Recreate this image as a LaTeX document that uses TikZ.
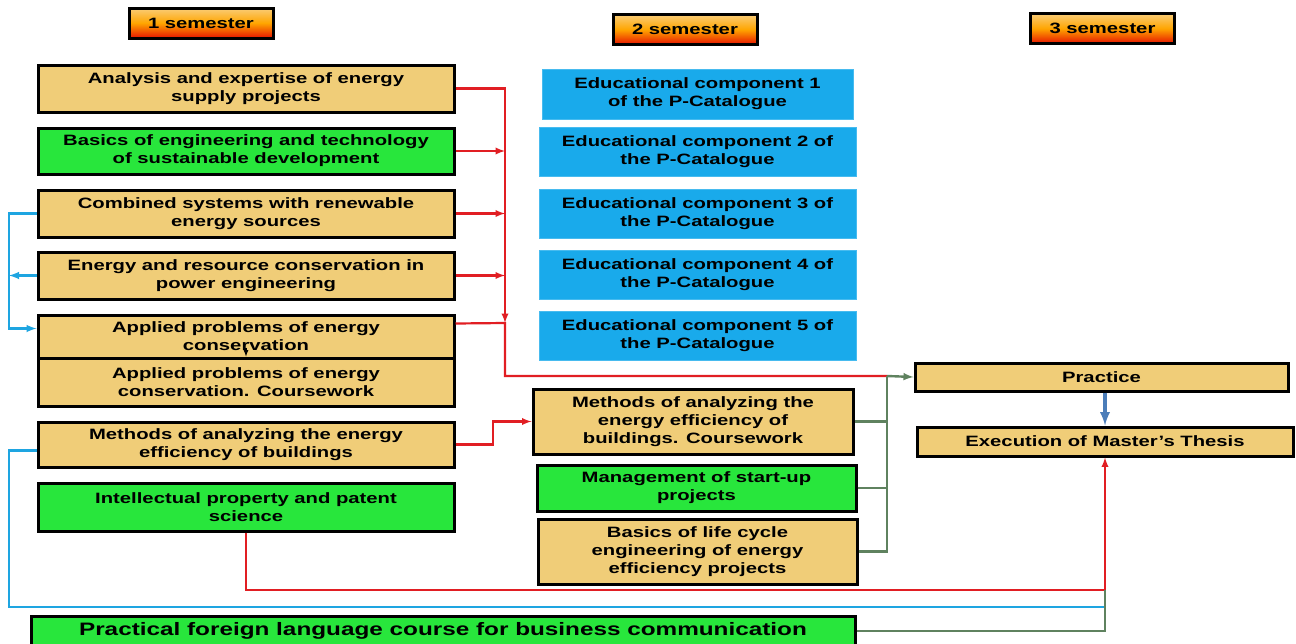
\documentclass[tikz,border=0pt]{standalone}
\usepackage{fontspec}
\setmainfont[FakeStretch=1.35]{Liberation Sans}
\usepackage{tikz}
\usetikzlibrary{positioning}
\usetikzlibrary{calc}

\definecolor{tanfill}{RGB}{240,205,120}
\definecolor{greenfill}{RGB}{40,230,60}
\definecolor{bluefill}{RGB}{25,170,235}
\definecolor{semtop}{RGB}{250,205,120}
\definecolor{semmid}{RGB}{255,165,0}
\definecolor{semred}{RGB}{230,20,0}
\definecolor{redlink}{RGB}{225,30,35}
\definecolor{cyanlink}{RGB}{30,165,225}
\definecolor{greylink}{RGB}{95,130,95}
\definecolor{steellink}{RGB}{75,125,185}

\begin{document}
\begin{tikzpicture}[x=1pt, y=-1pt,
    every node/.style={align=center, inner sep=0pt, font=\bfseries\fontsize{15}{18}\selectfont},
    course/.style={draw=black, line width=3pt},
    tancourse/.style={course, fill=tanfill},
    greencourse/.style={course, fill=greenfill},
    leftcol/.style={minimum width=416pt},
    catalogue/.style={draw=bluefill!80!white, line width=0.8pt, fill=bluefill, minimum width=317pt, minimum height=49pt},
    semester/.style={draw=black, line width=3pt, minimum width=144pt, minimum height=30pt, top color=semtop, bottom color=semred, middle color=semmid},
    redline/.style={draw=redlink, line width=2.2pt},
    cyanline/.style={draw=cyanlink, line width=2.4pt},
    greyline/.style={draw=greylink, line width=2.4pt},
    steelline/.style={draw=steellink, line width=3.5pt}]
        \useasboundingbox (0,0) rectangle (1296,643);

        % Semester headers
        \node[semester] (s1) at (201,23) {1 semester};
        \node[semester] (s2) at (685,29.5) {2 semester};
        \node[semester] (s3) at (1102.5,28.5) {3 semester};

        % First semester courses
        \node[tancourse, leftcol, minimum height=47pt] (A) at (246,88.5) {Analysis and expertise of energy\\supply projects};
        \node[greencourse, leftcol, minimum height=46pt] (B) at (246,151) {Basics of engineering and technology\\of sustainable development};
        \node[tancourse, leftcol, minimum height=47pt] (C) at (246,213.5) {Combined systems with renewable\\energy sources};
        \node[tancourse, leftcol, minimum height=47pt] (D) at (246,275.5) {Energy and resource conservation in\\power engineering};
        \node[tancourse, leftcol, minimum height=43pt] (E) at (246,336.5) {Applied problems of energy\\conservation};
        \node[tancourse, leftcol, minimum height=48pt, below=-3pt of E] (F) {Applied problems of energy\\conservation. Coursework};
        \node[tancourse, leftcol, minimum height=45pt] (G) at (246,444.5) {Methods of analyzing the energy\\efficiency of buildings};
        \node[greencourse, leftcol, minimum height=48pt] (H) at (246,507) {Intellectual property and patent\\science};
        \node[greencourse, minimum width=824pt, minimum height=30pt, font=\bfseries\fontsize{18}{20}\selectfont] (P) at (443,631) {Practical foreign language course for business communication};

        % Second semester: P-Catalogue components
        \node[catalogue, minimum width=311pt, minimum height=50pt] (EC1) at (697.5,94) {Educational component 1\\of the P-Catalogue};
        \foreach \i/\y in {2/151.5, 3/213.5, 4/274.5, 5/336}
        {
          \node[catalogue] (EC\i) at (697.5,\y) {Educational component \i{} of\\the P-Catalogue};
        }

        % Second semester courses
        \node[tancourse, minimum width=320pt, minimum height=65pt] (M1) at (693,421.5) {Methods of analyzing the\\energy efficiency of\\buildings. Coursework};
        \node[greencourse, minimum width=319pt, minimum height=46pt] (M2) at (696.5,488) {Management of start-up\\projects};
        \node[tancourse, minimum width=319pt, minimum height=65pt] (M3) at (697.5,551.5) {Basics of life cycle\\engineering of energy\\efficiency projects};

        % Third semester
        \node[tancourse, minimum width=373pt, minimum height=28pt] (Pr) at (1101.5,377) {Practice};
        \node[tancourse, minimum width=376pt, minimum height=29pt] (T) at (1105,441.5) {Execution of Master's Thesis};

        % Junction points
        \coordinate (bus) at (505,376);
        \coordinate (ej) at (505,323);
        \coordinate (gj) at (887,376);
        \coordinate (gl) at (493,0);
        \coordinate (lb) at (9,0);
        \coordinate (tj) at (1105,590);
        \coordinate (cj) at (1105,607);

        % Red links
        \draw[redline, -latex] (A.east) -| (ej);
        \foreach \c in {B,C,D}
        {
          \draw[redline, -latex] (\c.east) -- (\c.east -| bus);
        }
        \draw[redline] ([yshift=13pt]E.east) -- (ej) -- (bus) -- (gj);
        \draw[redline, -latex] (G.east) -- (G.east -| gl) |- (M1.west);
        \draw[redline, -latex] (H.south) |- (tj) -- (T.south);

        % Blue links on the left
        \draw[cyanline, -latex] (C.west) -- (C.west -| lb) |- ([yshift=8pt]E.west);
        \draw[cyanline, -latex] (D.west) -- (D.west -| lb);
        \draw[cyanline] ([yshift=-6pt]G.west) -| (lb |- cj) -- (cj);

        % Grey links to the practice
        \draw[greyline] (M3.east) -| (gj);
        \draw[greyline] (M1.east) -- (M1.east -| gj);
        \draw[greyline] (M2.east) -- (M2.east -| gj);
        \draw[greyline, -latex] (gj) -- (Pr.west);
        \draw[greyline] (P.east) -| (tj);

        \draw[steelline, -latex] (Pr.south -| T.north) -- (T.north);
        \draw[-latex, line width=1.2pt] ([yshift=9pt]F.north) -- (F.north);
      \end{tikzpicture}
\end{document}
